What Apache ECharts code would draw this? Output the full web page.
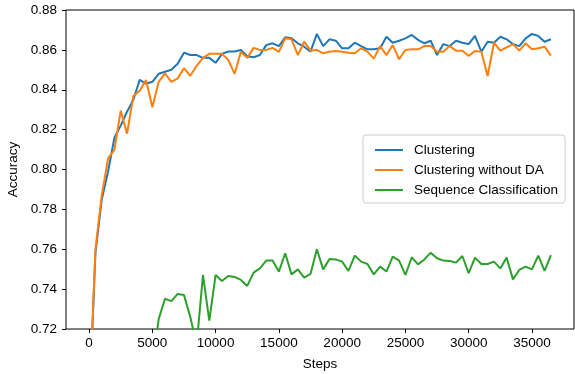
<!DOCTYPE html>
<html>
<head>
<meta charset="utf-8">
<script src="https://cdn.jsdelivr.net/npm/echarts@6/dist/echarts.min.js"></script>
<style>
  html, body { margin: 0; padding: 0; background: #fff; }
  #chart { width: 575px; height: 374px; }
</style>
</head>
<body>
<div id="chart"></div>
<script>
const steps = [
  0, 500, 1000, 1500, 2000, 2500, 3000, 3500, 4000, 4500,
  5000, 5500, 6000, 6500, 7000, 7500, 8000, 8500, 9000, 9500,
  10000, 10500, 11000, 11500, 12000, 12500, 13000, 13500, 14000, 14500,
  15000, 15500, 16000, 16500, 17000, 17500, 18000, 18500, 19000, 19500,
  20000, 20500, 21000, 21500, 22000, 22500, 23000, 23500, 24000, 24500,
  25000, 25500, 26000, 26500, 27000, 27500, 28000, 28500, 29000, 29500,
  30000, 30500, 31000, 31500, 32000, 32500, 33000, 33500, 34000, 34500,
  35000, 35500, 36000, 36500
]

const clustering = [
  0.680, 0.758, 0.785, 0.799, 0.816, 0.822, 0.829, 0.835, 0.845, 0.843,
  0.844, 0.848, 0.849, 0.850, 0.853, 0.8586, 0.8574, 0.8574, 0.8560, 0.8560,
  0.8535, 0.8580, 0.8592, 0.8592, 0.8599, 0.8568, 0.8563, 0.8574, 0.8624, 0.8633,
  0.8619, 0.8663, 0.8658, 0.8633, 0.8616, 0.8591, 0.8680, 0.8619, 0.8653, 0.8646,
  0.8608, 0.8608, 0.8636, 0.8619, 0.8603, 0.8603, 0.8608, 0.8666, 0.8636, 0.8646,
  0.8658, 0.8675, 0.8650, 0.8633, 0.8646, 0.8574, 0.8629, 0.8619, 0.8646, 0.8636,
  0.8629, 0.8670, 0.8591, 0.8641, 0.8636, 0.8666, 0.8653, 0.8629, 0.8619, 0.8658,
  0.8680, 0.8670, 0.8641, 0.8653
]

const clusteringNoDA = [
  0.680, 0.760, 0.787, 0.8056, 0.8098, 0.8295, 0.818, 0.8369, 0.8395, 0.8449,
  0.8312, 0.844, 0.8482, 0.844, 0.8457, 0.8508, 0.847, 0.852, 0.856, 0.858,
  0.858, 0.858, 0.855, 0.848, 0.859, 0.856, 0.861, 0.860, 0.860, 0.861,
  0.859, 0.8658, 0.8653, 0.8574, 0.8641, 0.8596, 0.8600, 0.8583, 0.8591, 0.8594,
  0.8591, 0.8586, 0.8583, 0.8608, 0.8591, 0.8556, 0.8619, 0.8574, 0.8624, 0.8553,
  0.8600, 0.8603, 0.8603, 0.8619, 0.8619, 0.8591, 0.8591, 0.8619, 0.8596, 0.8596,
  0.8570, 0.8594, 0.8591, 0.8469, 0.8636, 0.8596, 0.8613, 0.8629, 0.8596, 0.8633,
  0.8603, 0.8608, 0.8616, 0.8571
]

const seqClassification = [
  0.550, 0.620, 0.650, 0.670, 0.680, 0.690, 0.700, 0.700, 0.705, 0.710,
  0.700, 0.725, 0.7352, 0.7340, 0.7376, 0.7370, 0.7260, 0.7120, 0.7471, 0.7242,
  0.7471, 0.7441, 0.7466, 0.7461, 0.7446, 0.7416, 0.7483, 0.7504, 0.7543, 0.7543,
  0.7488, 0.7580, 0.7474, 0.7499, 0.7458, 0.7476, 0.7600, 0.7499, 0.7551, 0.7549,
  0.7538, 0.7491, 0.7568, 0.7538, 0.7526, 0.7474, 0.7513, 0.7488, 0.7563, 0.7543,
  0.7471, 0.7560, 0.7524, 0.7549, 0.7583, 0.7555, 0.7543, 0.7541, 0.7533, 0.7566,
  0.7480, 0.7558, 0.7526, 0.7526, 0.7538, 0.7504, 0.7558, 0.7449, 0.7496, 0.7513,
  0.7499, 0.7568, 0.7491, 0.7571
]

const xTicks = [0, 5000, 10000, 15000, 20000, 25000, 30000, 35000]
const seriesNames = ['Clustering', 'Clustering without DA', 'Sequence Classification']
const colors = ['#1f77b4', '#ff7f0e', '#2ca02c']

const font = 'Liberation Sans, Arial, sans-serif'
const fs = 13.5

function pairs(vals) {
  return steps.map((s, i) => [s, vals[i]])
}

const chart = echarts.init(document.getElementById('chart'), null, { renderer: 'canvas' })

chart.setOption({
  animation: false,
  color: colors,
  textStyle: { fontFamily: font },
  grid: {
    left: 66,
    right: 1,
    top: 10,
    bottom: 45,
    show: true,
    borderColor: '#000',
    borderWidth: 1,
    containLabel: false,
    outerBoundsMode: 'none'
  },
  legend: {
    orient: 'vertical',
    left: 363,
    top: 135,
    padding: [8, 7, 6, 12],
    itemWidth: 28,
    itemHeight: 14,
    itemGap: 6,
    icon: 'path://M0,0H28V2H0Z',
    backgroundColor: 'rgba(255,255,255,0.8)',
    borderColor: '#cccccc',
    borderWidth: 1,
    borderRadius: 3,
    textStyle: { fontSize: fs, color: '#000', fontFamily: font, padding: [0, 0, 0, 6] },
    data: seriesNames
  },
  xAxis: {
    type: 'value',
    min: -1825,
    max: 38325,
    name: 'Steps',
    nameLocation: 'middle',
    nameGap: 28,
    nameTextStyle: { fontSize: fs, color: '#000', fontFamily: font },
    axisLine: { show: false, onZero: false },
    axisTick: { show: true, inside: false, length: 4, lineStyle: { color: '#000' }, customValues: xTicks },
    axisLabel: {
      color: '#000',
      fontSize: fs,
      fontFamily: font,
      margin: 7,
      customValues: xTicks,
      formatter: v => String(v)
    },
    splitLine: { show: false }
  },
  yAxis: {
    type: 'value',
    min: 0.72,
    max: 0.88,
    interval: 0.02,
    name: 'Accuracy',
    nameLocation: 'middle',
    nameGap: 38,
    nameRotate: 90,
    nameTextStyle: { fontSize: fs, color: '#000', fontFamily: font },
    axisLine: { show: false, onZero: false },
    axisTick: { show: true, inside: false, length: 4, lineStyle: { color: '#000' } },
    axisLabel: {
      color: '#000',
      fontSize: fs,
      fontFamily: font,
      margin: 9,
      formatter: v => v.toFixed(2)
    },
    splitLine: { show: false }
  },
  series: [
    { name: seriesNames[0], type: 'line', data: pairs(clustering) },
    { name: seriesNames[1], type: 'line', data: pairs(clusteringNoDA) },
    { name: seriesNames[2], type: 'line', data: pairs(seqClassification) }
  ].map((s, i) => Object.assign(s, {
    symbol: 'none',
    clip: true,
    lineStyle: { width: 2, color: colors[i] },
    itemStyle: { color: colors[i] }
  }))
})
</script>
</body>
</html>
